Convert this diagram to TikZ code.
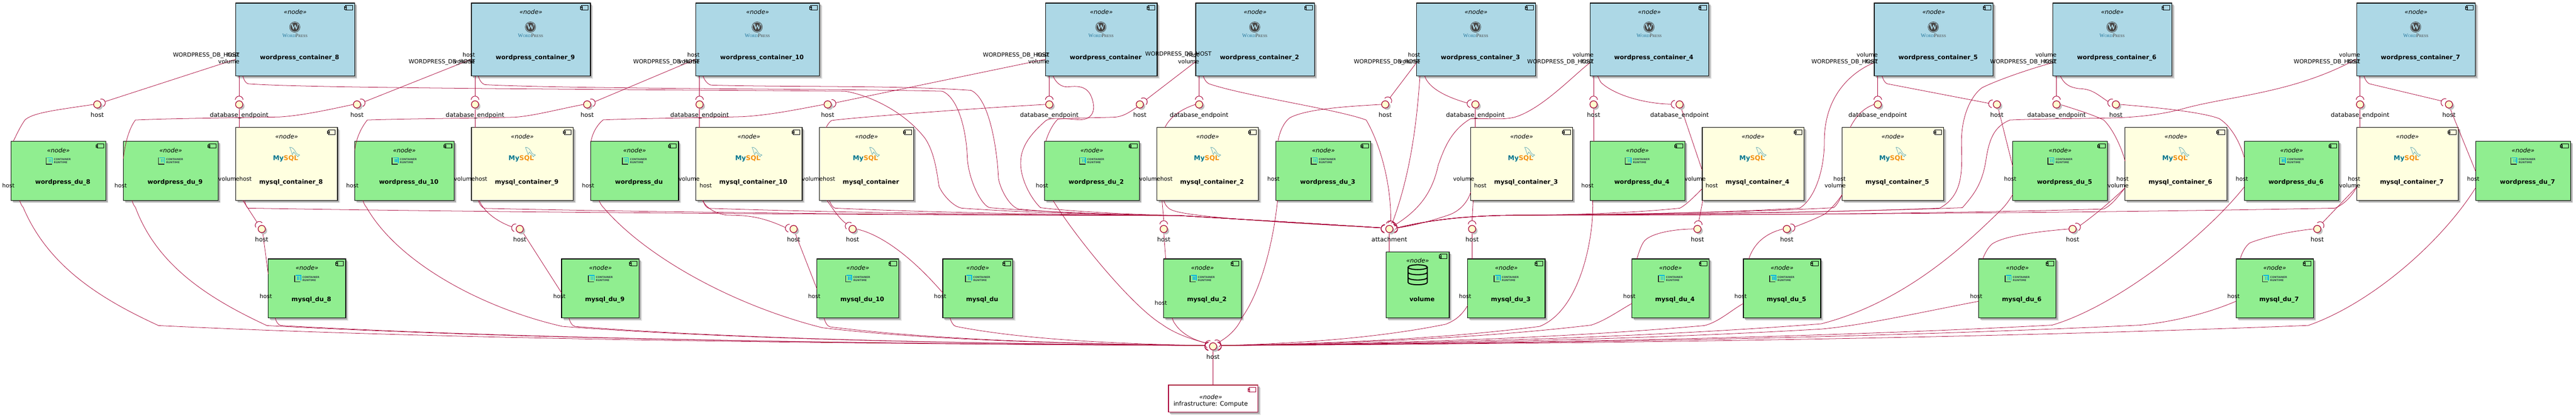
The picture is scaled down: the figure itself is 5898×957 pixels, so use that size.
\documentclass[tikz,border=0pt]{standalone}
\usepackage{fontspec}
\setmainfont{DejaVu Sans}
\newfontfamily\wpserif{Liberation Serif}
\usetikzlibrary{shadows,calc}
\pgfdeclarelayer{boxes}\pgfdeclarelayer{lines}
\pgfsetlayers{boxes,lines,main}
\definecolor{crim}{HTML}{A80036}
\definecolor{ifill}{HTML}{FEFECE}
\definecolor{wcblue}{HTML}{ADD8E6}
\definecolor{dugreen}{HTML}{90EE90}
\definecolor{mcyellow}{HTML}{FFFFE0}
\definecolor{wpblue}{HTML}{21759B}
\definecolor{wpgray}{HTML}{464342}
\definecolor{mybl}{HTML}{00758F}
\definecolor{myor}{HTML}{F29111}
\definecolor{crcy}{HTML}{00B4E6}
\definecolor{crtx}{HTML}{33424A}
\tikzset{
  softshadow/.style={general shadow={fill=black!12,shadow xshift=6pt,shadow yshift=-6pt},
                     general shadow={fill=black!32,shadow xshift=4pt,shadow yshift=-4pt}},
  compnode/.style={rectangle,draw=black,line width=1.5pt,inner sep=0pt,outer sep=0pt,softshadow},
  txtbase/.style={inner sep=0pt,outer sep=0pt},
  stereo/.style={txtbase,anchor=base,font=\fontsize{14}{16}\selectfont\itshape},
  nametext/.style={txtbase,anchor=base,font=\fontsize{14}{16}\selectfont\bfseries},
  iflab/.style={txtbase,anchor=base,font=\fontsize{14}{16}\selectfont},
  portlab/.style={txtbase,font=\fontsize{13}{15}\selectfont},
  ifnode/.style={circle,draw=crim,line width=1.5pt,fill=ifill,minimum size=16.6pt,inner sep=0pt,outer sep=0pt,
     general shadow={fill=black!25,shadow xshift=4pt,shadow yshift=-4pt}},
  sockst/.style={draw=crim,line width=1.2pt},
  conn/.style={draw=crim,line width=.9pt},
}
\newcount\nodecnt
\newcommand\tnode[1][]{\global\advance\nodecnt by 1 \node[#1] (t\the\nodecnt)}
% ---- boxes
\newcommand\iconbox[4]{% R,T,colour,fill
  \draw[draw=#3,line width=1.2pt,fill=#4] ({#1-20.5},{#2+5.7}) rectangle ({#1-5},{#2+15.7});
  \draw[draw=#3,line width=.9pt,fill=#4] ({#1-23},{#2+7.8}) rectangle ({#1-18.5},{#2+10.3});
  \draw[draw=#3,line width=.9pt,fill=#4] ({#1-23},{#2+11.6}) rectangle ({#1-18.5},{#2+14.1});
}
\newcommand\compbox[8]{% name,L,T,R,B,fill,nameoffset,text
  \pgfmathsetmacro\cx{(#2+#4)/2}
  \node[compnode,fill=#6,minimum width={(#4-#2)*1pt},minimum height={(#5-#3)*1pt},anchor=north west] (#1) at (#2,#3) {};
  \iconbox{#4}{#3}{black}{#6}
  \tnode[stereo] at (\cx,{#3+25.6}) {«node»};
  \tnode[nametext] at ({\cx+10},{#3+#7}) {#8};
}
\newcommand\wplogo[2]{% cx,T
  \draw[wpgray,line width=.9pt] ({#1-1},{#2+55}) circle[radius=12pt];
  \fill[wpgray] ({#1-1},{#2+55}) circle[radius=10.2pt];
  \tnode[txtbase,text=wcblue,font=\wpserif\fontsize{18}{18}\selectfont\bfseries] at ({#1-1},{#2+55}) {W};
  \tnode[txtbase,anchor=base,font=\wpserif\fontsize{12}{12}\selectfont] at ({#1-.7},{#2+79})
    {{\color{wpblue}W\fontsize{8.8}{9}\selectfont ORD}{\color{wpgray}P\fontsize{8.8}{9}\selectfont RESS}};
}
\newcommand\mylogo[2]{% cx,T
  \tnode[txtbase,anchor=base,font=\fontsize{15}{16}\selectfont\bfseries] at ({#1-2.5},{#2+75.5})
    {{\color{mybl}My}{\color{myor}SQL}};
  \draw[mybl!75,line width=.7pt] ({#1+7},{#2+45}) .. controls ({#1+13},{#2+45}) and ({#1+18},{#2+50}) .. ({#1+21},{#2+57})
     .. controls ({#1+23},{#2+61}) and ({#1+27},{#2+62}) .. ({#1+30},{#2+63})
     .. controls ({#1+27},{#2+64}) and ({#1+25},{#2+65}) .. ({#1+26},{#2+67})
     .. controls ({#1+22},{#2+64}) and ({#1+20},{#2+60}) .. ({#1+16},{#2+56})
     .. controls ({#1+15},{#2+59}) and ({#1+14},{#2+61}) .. ({#1+13},{#2+62})
     .. controls ({#1+12},{#2+58}) and ({#1+10},{#2+52}) .. ({#1+7},{#2+45});
}
\newcommand\crlogo[2]{% cx,T
  \draw[black!85,line width=1.8pt] ({#1-28},{#2+37.5}) -- ({#1-28},{#2+52.5}) -- ({#1-15},{#2+52.5});
  \draw[crcy,line width=1.8pt] ({#1-26},{#2+37.5}) -- ({#1-14.3},{#2+37.5}) -- ({#1-14.3},{#2+50});
  \fill[crcy] ({#1-22},{#2+40.5}) rectangle ({#1-20.5},{#2+48});
  \fill[crcy] ({#1-18.5},{#2+40.5}) rectangle ({#1-17},{#2+48});
  \tnode[txtbase,anchor=base west,text=crtx,font=\fontsize{6}{7}\selectfont\bfseries] at ({#1-10.4},{#2+44}) {CONTAINER};
  \tnode[txtbase,anchor=base west,text=crtx,font=\fontsize{6}{7}\selectfont\bfseries] at ({#1-10.4},{#2+51}) {RUNTIME};
}
\newcommand\wcbox[4]{\compbox{#1}{#2}{7}{#3}{174.3}{wcblue}{129.7}{#4}\wplogo{\cx}{7}}
\newcommand\mcbox[4]{\compbox{#1}{#2}{292.3}{#3}{459.3}{mcyellow}{129.7}{#4}\mylogo{\cx}{292.3}}
\newcommand\dubox[4]{\compbox{#1}{#2}{324}{#3}{459.3}{dugreen}{97.7}{#4}\crlogo{\cx}{324}}
\newcommand\mdubox[4]{\compbox{#1}{#2}{593.3}{#3}{728.3}{dugreen}{97.7}{#4}\crlogo{\cx}{593.3}}
% ---- interfaces
\newcommand\sock[3]{% iface, coord, angle
  \draw[sockst] ([shift={(#3:10pt)}]#1.center) ++(#3-85:9pt) arc[start angle=#3-85,delta angle=170,radius=9pt];
  \coordinate (#2) at ([shift={(#3:19pt)}]#1.center);
}
\newcommand\iface[5]{% name,x,y,label,angle
  \node[ifnode] (#1) at (#2,#3) {};
  \sock{#1}{#1-s}{#5}
  \node[iflab] (#1-l) at (#2,{#3+29.2}) {#4};
}
% ---- port ends
\newcommand\Sp[2]{([xshift=#2pt]#1.south west)}
\newcommand\Np[2]{([xshift=#2pt]#1.north west)}
\newcommand\Wp[2]{([yshift=-#2pt]#1.north west)}
% ---- long tails
\newcommand\tAL[2]{.. controls ({#1+.25*(2700-#1)},{#2+9}) and ({#1+.6*(2700-#1)},{#2+15}) .. (2700,494) .. controls (2850,503) and (3050,515) .. (attL)}
\newcommand\tAR[2]{.. controls ({#1-.3*(#1-3500)},{#2+11}) and ({#1-.7*(#1-3500)},{#2+15}) .. (3500,493) .. controls (3380,493) and (3290,500) .. (attR)}
\newcommand\tHL[2]{.. controls ({#1+.25*(2757-#1)},{#2+.65*(791-#2)}) and ({#1+.6*(2757-#1)},{#2+.92*(791-#2)}) .. (hubL)}
\newcommand\tHR[2]{.. controls ({#1-.3*(#1-2797)},{#2+.65*(791-#2)}) and ({#1-.65*(#1-2797)},{#2+.92*(791-#2)}) .. (hubR)}
% ---- port labels
\newcommand\pe[3]{\tnode[portlab,anchor=base east] at (#1,{#2+4.5}) {#3};}
\newcommand\pw[3]{\tnode[portlab,anchor=base west] at (#1,{#2+4.5}) {#3};}
\newcommand\WDH{WORDPRESS\_DB\_HOST}
\begin{document}
\begin{tikzpicture}[x=1pt,y=-1pt]
\useasboundingbox (0,0) rectangle (5898,957);
\begin{pgfonlayer}{boxes}
\fill[white] (0,0) rectangle (5898,957);
\wcbox{wc8}{540}{812}{wordpress\_container\_8}
\wcbox{wc9}{1079.3}{1351.8}{wordpress\_container\_9}
\wcbox{wc10}{1592.9}{1876.3}{wordpress\_container\_10}
\wcbox{wc}{2394}{2649.2}{wordpress\_container}
\wcbox{wc2}{2737.9}{3009.6}{wordpress\_container\_2}
\wcbox{wc3}{3243.6}{3515.5}{wordpress\_container\_3}
\wcbox{wc4}{3640.6}{3912.4}{wordpress\_container\_4}
\wcbox{wc5}{4291.3}{4563.6}{wordpress\_container\_5}
\wcbox{wc6}{4700.4}{4972.6}{wordpress\_container\_6}
\wcbox{wc7}{5395.9}{5667.7}{wordpress\_container\_7}
\mcbox{mc8}{540}{772.7}{mysql\_container\_8}
\mcbox{mc9}{1079.3}{1312.5}{mysql\_container\_9}
\mcbox{mc10}{1592.9}{1836.5}{mysql\_container\_10}
\mcbox{mc}{1876.3}{2091.7}{mysql\_container}
\mcbox{mc2}{2648.6}{2881.4}{mysql\_container\_2}
\mcbox{mc3}{3367.3}{3600.5}{mysql\_container\_3}
\mcbox{mc4}{3897.3}{4130.4}{mysql\_container\_4}
\mcbox{mc5}{4217.7}{4450.3}{mysql\_container\_5}
\mcbox{mc6}{4865.6}{5098.6}{mysql\_container\_6}
\mcbox{mc7}{5395.9}{5628.2}{mysql\_container\_7}
\dubox{wdu8}{25.3}{242.3}{wordpress\_du\_8}
\dubox{wdu9}{282.4}{499.4}{wordpress\_du\_9}
\dubox{wdu10}{812.3}{1039.5}{wordpress\_du\_10}
\dubox{wdu}{1352.3}{1553.6}{wordpress\_du}
\dubox{wdu2}{2391.4}{2608.4}{wordpress\_du\_2}
\dubox{wdu3}{2921.6}{3138.4}{wordpress\_du\_3}
\dubox{wdu4}{3640.6}{3857.6}{wordpress\_du\_4}
\dubox{wdu5}{4608.4}{4825.5}{wordpress\_du\_5}
\dubox{wdu6}{5138.7}{5355.1}{wordpress\_du\_6}
\dubox{wdu7}{5668.3}{5885.4}{wordpress\_du\_7}
\mdubox{mdu8}{614.2}{791.6}{mysql\_du\_8}
\mdubox{mdu9}{1285.9}{1463.7}{mysql\_du\_9}
\mdubox{mdu10}{1870.5}{2057.7}{mysql\_du\_10}
\mdubox{mdu}{2158.7}{2318.7}{mysql\_du}
\mdubox{mdu2}{2664.5}{2841.8}{mysql\_du\_2}
\mdubox{mdu3}{3360.3}{3537.7}{mysql\_du\_3}
\mdubox{mdu4}{3736.4}{3913.3}{mysql\_du\_4}
\mdubox{mdu5}{3991.7}{4168.6}{mysql\_du\_5}
\mdubox{mdu6}{4530.5}{4707.5}{mysql\_du\_6}
\mdubox{mdu7}{5119.6}{5296.6}{mysql\_du\_7}
\compbox{volume}{3173.5}{577}{3318.2}{728.3}{dugreen}{113.7}{volume}
\begin{scope}[black,line width=2.4pt]
\draw (\cx,612.3) ellipse[x radius=22pt,y radius=5.5pt];
\draw ({\cx-22},612.3) -- ({\cx-22},647) arc[start angle=180,end angle=360,x radius=22pt,y radius=5.5pt] -- ({\cx+22},612.3);
\draw ({\cx-22},624) arc[start angle=180,end angle=360,x radius=22pt,y radius=5.5pt];
\draw ({\cx-22},636) arc[start angle=180,end angle=360,x radius=22pt,y radius=5.5pt];
\end{scope}
\node[compnode,draw=crim,fill=white,minimum width=204.6pt,minimum height=62pt,anchor=north west] (infra) at (2675.4,882.3) {};
\iconbox{2880}{882.3}{crim}{white}
\tnode[stereo] at (2772,914.4) {«node»};
\tnode[iflab] at (2772,930.5) {infrastructure: Compute};
\end{pgfonlayer}
% interfaces, first row
\iface{wh8}{222.7}{239.3}{host}{20}
\iface{wd8}{547.6}{239.3}{database\_endpoint}{90}
\iface{wh9}{817.4}{239.3}{host}{20}
\iface{wd9}{1087.6}{239.3}{database\_endpoint}{90}
\iface{wh10}{1344.4}{239.3}{host}{20}
\iface{wd10}{1601.7}{239.3}{database\_endpoint}{90}
\iface{whc}{1895}{239.3}{host}{12}
\iface{wdc}{2402.4}{239.3}{database\_endpoint}{90}
\iface{wh2}{2609.7}{239.3}{host}{37}
\iface{wd2}{2745.5}{239.3}{database\_endpoint}{90}
\iface{wh3}{3171.6}{239.3}{host}{55}
\iface{wd3}{3378}{239.3}{database\_endpoint}{170}
\iface{wh4}{3648.6}{239.3}{host}{90}
\iface{wd4}{3845.4}{239.3}{database\_endpoint}{178}
\iface{wd5}{4299.3}{239.3}{database\_endpoint}{90}
\iface{wh5}{4572}{239.3}{host}{172}
\iface{wd6}{4708.5}{239.3}{database\_endpoint}{90}
\iface{wh6}{4844.4}{239.3}{host}{160}
\iface{wd7}{5403.5}{239.3}{database\_endpoint}{90}
\iface{wh7}{5607}{239.3}{host}{155}
% interfaces, second row
\iface{mh8}{599.3}{524.7}{host}{125}
\iface{mh9}{1190}{524.7}{host}{165}
\iface{mh10}{1817}{524.7}{host}{170}
\iface{mhc}{1952}{524.7}{host}{140}
\iface{mh2}{2664.5}{524.7}{host}{90}
\iface{mh3}{3370.5}{524.7}{host}{90}
\iface{mh4}{3886.4}{524.7}{host}{80}
\iface{mh5}{4091}{524.7}{host}{15}
\iface{mh6}{4745.3}{524.7}{host}{25}
\iface{mh7}{5305.5}{524.7}{host}{50}
% hubs
\node[ifnode] (att) at (3181,524.7) {};
\node[iflab] (att-l) at (3181,553.9) {attachment};
\sock{att}{attL}{172}\sock{att}{attLb}{180}\sock{att}{attR}{8}\sock{att}{attRb}{0}
\sock{att}{attT1}{80}\sock{att}{attT2}{65}\sock{att}{attT3}{35}
\node[ifnode] (hub) at (2777.4,793.7) {};
\node[iflab] (hub-l) at (2777.4,822.9) {host};
\sock{hub}{hubL}{174}\sock{hub}{hubLb}{182}\sock{hub}{hubR}{6}\sock{hub}{hubRb}{-2}
\sock{hub}{hubTL}{155}\sock{hub}{hubTR}{35}
% connectors
\begin{pgfonlayer}{lines}
\draw[conn] (att.south) -- \Np{volume}{7.5};
\draw[conn] (hub.south) -- (hub.south |- infra.north);
% container to socket, straight
\draw[conn] \Wp{wc8}{128.7} -- (wh8-s);
\draw[conn] \Wp{wc9}{128.7} -- (wh9-s);
\draw[conn] \Wp{wc10}{128.7} -- (wh10-s);
\draw[conn] \Wp{wc}{128.7} -- (whc-s);
\draw[conn] \Wp{wc2}{134} -- (wh2-s);
\draw[conn] \Wp{wc3}{136} -- (wh3-s);
\draw[conn] \Sp{wc4}{8} -- (wh4-s);
\draw[conn] \Sp{wc8}{7.6} -- (wd8-s);
\draw[conn] \Sp{wc9}{8.3} -- (wd9-s);
\draw[conn] \Sp{wc10}{8.8} -- (wd10-s);
\draw[conn] \Sp{wc}{8.4} -- (wdc-s);
\draw[conn] \Sp{wc2}{7.6} -- (wd2-s);
\draw[conn] \Sp{wc5}{8} -- (wd5-s);
\draw[conn] \Sp{wc6}{8.1} -- (wd6-s);
\draw[conn] \Sp{wc7}{7.6} -- (wd7-s);
\draw[conn] (wd8.south) -- \Np{mc8}{7.6};
\draw[conn] (wd9.south) -- \Np{mc9}{8.3};
\draw[conn] (wd10.south) -- \Np{mc10}{8.8};
\draw[conn] (wd3.south) -- \Np{mc3}{10.7};
\draw[conn] (wd7.south) -- \Np{mc7}{7.6};
\draw[conn] (wh4.south) -- \Np{wdu4}{8};
% interface to wordpress du
\draw[conn] (wh8.west) .. controls (130,252) and (75,258) .. (57,275) .. controls (45,292) and (35,315) .. \Np{wdu8}{5};
\draw[conn] (wh9.west) .. controls (750,252) and (690,265) .. (640,268) .. controls (540,270) and (400,271) .. (310,275) .. controls (295,295) and (286,330) .. \Wp{wdu9}{39};
\draw[conn] (wh10.west) .. controls (1280,250) and (1220,266) .. (1178,268.6) .. controls (1080,271) and (930,272) .. (841,275) .. controls (825,295) and (815,320) .. \Wp{wdu10}{20};
\draw[conn] (whc.west) .. controls (1820,252) and (1760,264) .. (1700,267.4) .. controls (1600,270) and (1470,271) .. (1381,274.7) .. controls (1368,285) and (1356,305) .. \Np{wdu}{1};
\draw[conn] (wh2.225) .. controls (2585,258) and (2570,268) .. (2550,268.5) .. controls (2510,270) and (2460,270) .. (2422,273) .. controls (2410,285) and (2400,305) .. \Np{wdu2}{3};
\draw[conn] (wh3.west) .. controls (3080,244) and (2990,250) .. (2953,270) .. controls (2940,280) and (2930,300) .. \Np{wdu3}{4.5};
\draw[conn] (wh5.-70) -- \Wp{wdu5}{57.6};
\draw[conn] (wh6.east) .. controls (4900,243) and (5040,255) .. (5081.4,272) .. controls (5110,290) and (5130,330) .. \Wp{wdu6}{38};
\draw[conn] (wh7.-75) -- \Wp{wdu7}{69};
% database endpoints
\draw[conn] (wdc.west) .. controls (2200,250) and (1950,270) .. (1904,276) .. controls (1898,280) and (1895,286) .. \Np{mc}{15};
\draw[conn] (wd2.west) .. controls (2710,248) and (2680,265) .. \Np{mc2}{18.5};
\draw[conn] \Sp{wc3}{18.4} .. controls (3272,205) and (3320,225) .. (wd3-s);
\draw[conn] \Sp{wc4}{17.4} .. controls (3661,180) and (3663,186) .. (3666.5,190) .. controls (3700,220) and (3770,238) .. (wd4-s);
\draw[conn] (wd4.-65) -- \Wp{mc4}{98};
\draw[conn] (wd5.west) .. controls (4260,250) and (4245,275) .. \Np{mc5}{18.3};
\draw[conn] (wd6.east) .. controls (4750,250) and (4790,262) .. (4816.5,275) .. controls (4838,295) and (4858,340) .. \Wp{mc6}{77};
% host sockets of containers with a bend
\draw[conn] \Sp{wc5}{17.7} .. controls (4313,185) and (4316,190) .. (4321,192) -- (wh5-s);
\draw[conn] \Sp{wc6}{17} .. controls (4725,190) and (4735,200) .. (4760,203) .. controls (4790,204) and (4800,215) .. (wh6-s);
\draw[conn] \Sp{wc7}{16.5} .. controls (5416,184) and (5419,189) .. (5425,192) -- (wh7-s);
% mysql to host sockets
\draw[conn] \Sp{mc8}{16} -- (mh8-s);
\draw[conn] (mh8.-75) -- \Wp{mdu8}{35};
\draw[conn] \Sp{mc9}{18} .. controls (1110,490) and (1145,510) .. (mh9-s);
\draw[conn] (mh9.-45) -- \Wp{mdu9}{78};
\draw[conn] \Sp{mc10}{15.7} .. controls (1618,478) and (1640,490) .. (1664.5,493) .. controls (1700,494) and (1735,492) .. (mh10-s);
\draw[conn] (mh10.-70) -- \Wp{mdu10}{69};
\draw[conn] \Sp{mc}{17} .. controls (1905,475) and (1920,500) .. (mhc-s);
\draw[conn] (mhc.east) .. controls (2010,535) and (2080,580) .. \Wp{mdu}{78};
\draw[conn] \Sp{mc2}{12} -- (mh2-s);
\draw[conn] (mh2.south) -- \Np{mdu2}{4.5};
\draw[conn] \Sp{mc3}{5.7} -- (mh3-s);
\draw[conn] (mh3.south) -- \Np{mdu3}{10.2};
\draw[conn] \Sp{mc4}{1.4} -- (mh4-s);
\draw[conn] (mh4.west) .. controls (3830,525) and (3780,535) .. (3765,552) .. controls (3757,562) and (3752,580) .. \Np{mdu4}{11.3};
\draw[conn] \Wp{mc5}{153.7} .. controls (4205,465) and (4185,487) .. (4175,492) .. controls (4155,502) and (4130,512) .. (mh5-s);
\draw[conn] (mh5.west) .. controls (4060,530) and (4020,545) .. \Np{mdu5}{12.3};
\draw[conn] \Wp{mc6}{138} .. controls (4840,455) and (4800,490) .. (mh6-s);
\draw[conn] (mh6.west) .. controls (4670,530) and (4590,540) .. (4561.7,558.6) .. controls (4552,566) and (4545,580) .. \Np{mdu6}{9};
\draw[conn] \Wp{mc7}{136} -- (mh7-s);
\draw[conn] (mh7.west) .. controls (5240,530) and (5180,545) .. (5151,556.7) .. controls (5140,565) and (5133,580) .. \Np{mdu7}{9.5};
% to attachment, from the left
\draw[conn] \Sp{wc8}{16} .. controls (559,184) and (562,190) .. (568,192) .. controls (700,202) and (1300,204) .. (1935,209) .. controls (1990,218) and (2070,255) .. (2118,317) .. controls (2140,350) and (2145,395) .. (2150,427) .. controls (2160,450) and (2185,474) .. (2202,477) \tAL{2202}{477};
\draw[conn] \Sp{wc9}{15.7} .. controls (1098,184) and (1103,192) .. (1110,194) .. controls (1300,204) and (1900,203) .. (2157.6,209) .. controls (2195,225) and (2213,300) .. (2215,366) .. controls (2220,420) and (2250,474) .. (2267,476) \tAL{2267}{476};
\draw[conn] \Sp{wc10}{16.7} .. controls (1613,184) and (1620,193) .. (1628,195) .. controls (1800,200) and (2050,195) .. (2223,207) .. controls (2265,225) and (2283,340) .. (2286,409) .. controls (2292,440) and (2315,476) .. (2333,479) \tAL{2333}{479};
\draw[conn] \Sp{wc}{17} .. controls (2418,190) and (2430,200) .. (2445,199) .. controls (2465,197) and (2490,195) .. (2500,225) .. controls (2512,260) and (2495,275) .. (2470,274.5) .. controls (2440,272) and (2410,268) .. (2395,276) .. controls (2350,315) and (2335,345) .. (2337,380) .. controls (2340,420) and (2365,460) .. (2382.5,476) \tAL{2382.5}{476};
\draw[conn] \Sp{mc8}{20} .. controls (562,468) and (565,476) .. (568,477) \tAL{568}{477};
\draw[conn] \Sp{mc9}{15.7} .. controls (1098,468) and (1103,476) .. (1110,477.5) \tAL{1110}{477.5};
\draw[conn] \Sp{mc10}{16.7} .. controls (1612,468) and (1617,476) .. (1622.7,477.4) \tAL{1622.7}{477.4};
\draw[conn] \Sp{mc}{22.7} .. controls (1902,468) and (1907,476) .. (1912,477) \tAL{1912}{477};
\draw[conn] \Sp{mc2}{16} .. controls (2668,470) and (2672,475) .. (2680,480) .. controls (2700,490) and (2770,502) .. (attL);
% to attachment, from above
\draw[conn] \Sp{wc2}{17} .. controls (2758,183) and (2762,189) .. (2768,192) .. controls (2850,220) and (3060,250) .. (3128,275) .. controls (3160,330) and (3185,420) .. (attT1);
\draw[conn] \Sp{wc3}{7.4} .. controls (3243,300) and (3225,410) .. (attT2);
\draw[conn] \Wp{wc4}{136.5} .. controls (3600,175) and (3530,250) .. (3468,268.6) .. controls (3440,275) and (3415,271) .. (3367,272) .. controls (3320,300) and (3305,345) .. (3293,378) .. controls (3280,440) and (3250,480) .. (attT3);
% to attachment, from the right
\draw[conn] \Wp{mc3}{148} .. controls (3360,465) and (3340,485) .. (3316,493) .. controls (3280,505) and (3235,518) .. (attR);
\draw[conn] \Wp{mc4}{140} .. controls (3880,450) and (3860,470) .. (3846,477) \tAR{3846}{477};
\draw[conn] \Wp{wc5}{136.5} .. controls (4250,160) and (4177,210) .. (4177,323) .. controls (4177,400) and (4150,460) .. (4120,477) \tAR{4120}{477};
\draw[conn] \Wp{mc5}{153.7} .. controls (4212,458) and (4206,470) .. (4198,476) \tAR{4198}{476};
\draw[conn] \Wp{wc6}{136.5} .. controls (4640,160) and (4570,185) .. (4538,201) .. controls (4510,222) and (4491,270) .. (4491,323.6) .. controls (4491,380) and (4500,445) .. (4441,477) \tAR{4441}{477};
\draw[conn] \Wp{mc6}{138} .. controls (4850,450) and (4835,470) .. (4816.5,479) \tAR{4816.5}{479};
\draw[conn] \Wp{wc7}{128} .. controls (5250,215) and (5100,220) .. (4995.5,250) .. controls (4950,262) and (4900,268) .. (4845,270) .. controls (4760,272) and (4670,272) .. (4602,275) .. controls (4565,290) and (4555,320) .. (4548,360) .. controls (4540,420) and (4520,445) .. (4493,476) \tAR{4493}{476};
\draw[conn] \Wp{mc7}{136} .. controls (5385,450) and (5365,470) .. (5345.6,477) \tAR{5345.6}{477};
% to hub, from the left
\draw[conn] \Sp{wdu8}{19.7} .. controls (47,466) and (50,472) .. (53,475) .. controls (110,610) and (230,685) .. (363,746) \tHL{363}{746};
\draw[conn] \Sp{wdu9}{20.1} .. controls (304,466) and (307,472) .. (310,475) .. controls (360,610) and (480,685) .. (611,746) \tHL{611}{746};
\draw[conn] \Sp{wdu10}{18.7} .. controls (833,466) and (836,472) .. (839,475) .. controls (910,600) and (1100,705) .. (1288,748) \tHL{1288}{748};
\draw[conn] \Sp{wdu}{19.3} .. controls (1374,466) and (1378,472) .. (1382,476) .. controls (1480,590) and (1680,700) .. (1883,751) \tHL{1883}{751};
\draw[conn] \Sp{mdu8}{15.8} .. controls (632,737) and (637,745) .. (643,746) \tHL{643}{746};
\draw[conn] \Sp{mdu9}{16.7} .. controls (1305,738) and (1310,747) .. (1316.7,748) \tHL{1316.7}{748};
\draw[conn] \Sp{mdu10}{16.2} .. controls (1889,738) and (1894,748) .. (1901,749) \tHL{1901}{749};
\draw[conn] \Sp{mdu}{16.3} .. controls (2178,738) and (2183,747) .. (2189,748) \tHL{2189}{748};
% to hub, from above
\draw[conn] \Sp{wdu2}{19.6} .. controls (2460,540) and (2590,700) .. (2660,743) .. controls (2690,765) and (2730,778) .. (hubTL);
\draw[conn] \Sp{mdu2}{19.2} .. controls (2686,735) and (2688,740) .. (2691,743) .. controls (2705,765) and (2735,780) .. (hubTL);
\draw[conn] \Sp{wdu3}{3.4} .. controls (2915,560) and (2885,670) .. (2844,727) .. controls (2835,750) and (2815,770) .. (hubTR);
% to hub, from the right
\draw[conn] \Wp{mdu3}{107} .. controls (3345,725) and (3330,735) .. (3310,743) \tHR{3310}{743};
\draw[conn] \Sp{wdu4}{6} .. controls (3650,540) and (3620,710) .. (3525,748) \tHR{3525}{748};
\draw[conn] \Wp{mdu4}{102} .. controls (3710,710) and (3675,735) .. (3643,745) \tHR{3643}{745};
\draw[conn] \Wp{mdu5}{102} .. controls (3965,710) and (3935,738) .. (3902.5,746) \tHR{3902.5}{746};
\draw[conn] \Wp{wdu5}{121.5} .. controls (4600,460) and (4590,473) .. (4580.6,482) .. controls (4510,550) and (4370,690) .. (4170,742) \tHR{4170}{742};
\draw[conn] \Wp{mdu6}{97} .. controls (4400,715) and (4270,745) .. (4170,754) \tHR{4170}{754};
\draw[conn] \Wp{wdu6}{104} .. controls (5050,540) and (4850,700) .. (4698.5,745) \tHR{4698.5}{745};
\draw[conn] \Wp{mdu7}{97} .. controls (5050,720) and (4970,738) .. (4900,745) \tHR{4900}{745};
\draw[conn] \Wp{wdu7}{106} .. controls (5590,555) and (5430,695) .. (5285,745.7) \tHR{5285}{745.7};
\end{pgfonlayer}
% port labels
\pe{548}{125.7}{\WDH}\pe{548}{125.7}{host}\pe{548}{141}{volume}
\pe{1087.6}{125.7}{host}\pe{1087.6}{141}{\WDH}\pe{1087.6}{141}{volume}
\pe{1601.7}{125.7}{host}\pe{1601.7}{141}{\WDH}\pe{1601.7}{141}{volume}
\pe{2402.4}{125.7}{\WDH}\pe{2402.4}{125.7}{host}\pe{2402.4}{141}{volume}
\pe{2774}{124}{\WDH}\pe{2745.5}{125.7}{host}\pe{2745.5}{141}{volume}
\pe{3251.6}{125.7}{host}\pe{3251.6}{141}{\WDH}\pe{3251.6}{141}{volume}
\pe{3648.6}{125.7}{volume}\pe{3648.6}{141}{\WDH}\pe{3648.6}{141}{host}
\pe{4299.3}{125.7}{volume}\pe{4299.3}{141}{\WDH}\pe{4299.3}{141}{host}
\pe{4708.5}{125.7}{volume}\pe{4708.5}{141}{\WDH}\pe{4708.5}{141}{host}
\pe{5403.5}{125.7}{volume}\pe{5403.5}{141}{\WDH}\pe{5403.5}{141}{host}
\pe{548}{410.5}{volume}\pw{548}{410.5}{host}
\pe{1087.6}{410.5}{volume}\pw{1087.6}{410.5}{host}
\pe{1601.7}{410.5}{volume}\pw{1601.7}{425.6}{host}
\pe{1884}{410.5}{volume}\pw{1884}{410.5}{host}
\pe{2656.6}{410.5}{volume}\pw{2656.6}{410.5}{host}
\pe{3375.3}{410.5}{volume}\pw{3375.3}{425.6}{host}
\pe{3905.3}{410.5}{volume}\pw{3905.3}{425.6}{host}
\pe{4225.7}{410.5}{host}\pe{4225.7}{425.6}{volume}
\pe{4873.6}{410.5}{host}\pe{4873.6}{425.6}{volume}
\pe{5403.9}{410.5}{host}\pe{5403.9}{425.6}{volume}
\pe{33.3}{425.6}{host}\pe{290.5}{425.6}{host}\pe{820.8}{425.6}{host}\pe{1360.6}{425.6}{host}\pe{2399.8}{425.6}{host}
\pe{2929.8}{410.5}{host}\pe{3648.6}{425.6}{host}\pe{4616.4}{410.5}{host}\pe{5147}{410.5}{host}\pe{5676.6}{410.5}{host}
\pe{622.8}{679.4}{host}\pe{1294.7}{679.4}{host}\pe{1878.3}{679.4}{host}\pe{2166.5}{679.4}{host}\pe{2672}{694.3}{host}
\pe{3368.6}{679.4}{host}\pe{3744.4}{679.4}{host}\pe{3999.2}{679.4}{host}\pe{4538.6}{679.4}{host}\pe{5127.9}{679.4}{host}
\end{tikzpicture}
\end{document}
